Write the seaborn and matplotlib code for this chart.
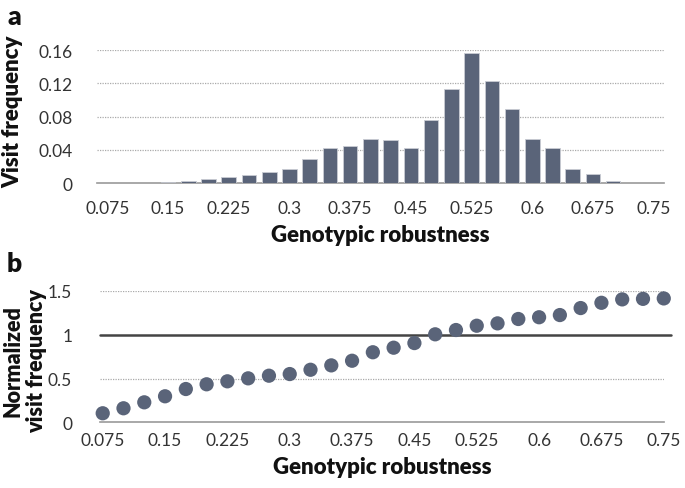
import numpy as np
import pandas as pd
import matplotlib
matplotlib.use("Agg")
import matplotlib.pyplot as plt
import seaborn as sns

# genotypic robustness bins (0.075 .. 0.75, step 0.025)
robustness = ["0.075", "0.1", "0.125", "0.15", "0.175", "0.2", "0.225", "0.25",
              "0.275", "0.3", "0.325", "0.35", "0.375", "0.4", "0.425", "0.45",
              "0.475", "0.5", "0.525", "0.55", "0.575", "0.6", "0.625", "0.65",
              "0.675", "0.7", "0.725", "0.75"]
visit_freq = [0.0, 0.0, 0.0, 0.0016, 0.003, 0.005, 0.007, 0.0096,
              0.013, 0.017, 0.0285, 0.042, 0.045, 0.053, 0.052, 0.042,
              0.076, 0.113, 0.156, 0.123, 0.089, 0.053, 0.042, 0.017,
              0.0105, 0.003, 0.0, 0.0]
norm_freq = [0.103, 0.16, 0.228, 0.297, 0.38, 0.434, 0.468, 0.502,
             0.532, 0.551, 0.60, 0.65, 0.703, 0.80, 0.852, 0.905,
             1.005, 1.054, 1.103, 1.13, 1.18, 1.20, 1.225, 1.305,
             1.365, 1.404, 1.41, 1.415]
tick_labels = ["0.075", "0.15", "0.225", "0.3", "0.375", "0.45", "0.525", "0.6", "0.675", "0.75"]

sns.set_theme(style="white")
plt.rcParams["font.family"] = ["Lato", "DejaVu Sans"]

BAR = "#5a6479"
TXT = "#333333"
LBL = "#111111"

df = pd.DataFrame({"robustness": robustness, "visit": visit_freq, "norm": norm_freq})
df["pos"] = np.arange(len(df))

fig = plt.figure(figsize=(6.85, 4.89), dpi=100)
ax1 = fig.add_axes([0.142, 0.6237, 0.827, 0.2720])
ax2 = fig.add_axes([0.146, 0.1344, 0.823, 0.2685])

# --- panel a: visit frequency histogram ---
sns.barplot(data=df, x="robustness", y="visit", color=BAR, width=0.72,
            edgecolor="#c9ccd3", linewidth=0.6, saturation=1, ax=ax1, zorder=3)
ax1.set_xlim(-0.5, len(df) - 0.5)
ax1.set_ylim(0, 0.16)
ax1.set_yticks([0, 0.04, 0.08, 0.12, 0.16])
ax1.set_yticklabels(["0", "0.04", "0.08", "0.12", "0.16"])
ax1.set_xticks(np.arange(0, len(df), 3))
ax1.set_xticklabels(tick_labels)
ax1.set_xlabel("Genotypic robustness", fontsize=16, fontweight="heavy", color=LBL, labelpad=6)
ax1.set_ylabel("")

# --- panel b: normalized visit frequency ---
sns.scatterplot(data=df, x="pos", y="norm", color=BAR, s=105, edgecolor="none",
                ax=ax2, zorder=4, clip_on=False)
ax2.axhline(1, xmin=0, xmax=1.0125, color="#444444", linewidth=1.8, zorder=3, clip_on=False)
ax2.set_xlim(-0.13, len(df) - 1)
ax2.set_ylim(0, 1.5)
ax2.set_yticks([0, 0.5, 1, 1.5])
ax2.set_yticklabels(["0", "0.5", "1", "1.5"])
ax2.set_xticks(np.arange(0, len(df), 3))
ax2.set_xticklabels(tick_labels)
ax2.set_xlabel("Genotypic robustness", fontsize=16, fontweight="heavy", color=LBL, labelpad=6)
ax2.set_ylabel("")

for ax, xpad, ypad in [(ax1, 12, 18), (ax2, 7, 20)]:
    sns.despine(ax=ax, left=True, top=True, right=True)
    ax.spines["bottom"].set_color("#999999")
    ax.spines["bottom"].set_linewidth(1.2)
    ax.spines["bottom"].set_zorder(2)
    ax.yaxis.grid(True, linestyle=(0, (1, 1)), color="#aaaaaa", linewidth=0.9, zorder=0)
    ax.xaxis.grid(False)
    ax.set_axisbelow(True)
    ax.tick_params(axis="x", length=0, pad=xpad, labelsize=12.5, labelcolor=TXT)
    ax.tick_params(axis="y", length=0, pad=ypad, labelsize=12.5, labelcolor=TXT)

# hide the grid line that coincides with the baseline
ax1.yaxis.get_gridlines()[0].set_visible(False)
ax2.yaxis.get_gridlines()[0].set_visible(False)
ax2.yaxis.get_gridlines()[2].set_visible(False)

fig.text(0.019, 0.771, "Visit frequency", rotation=90, ha="center", va="center",
         fontsize=16, fontweight="heavy", color=LBL)
fig.text(0.036, 0.262, "Normalized\nvisit frequency", rotation=90, ha="center", va="center",
         fontsize=15.5, fontweight="heavy", color=LBL, linespacing=1.15)
fig.text(0.021, 0.949, "a", ha="center", va="baseline", fontsize=19, fontweight="heavy", color=LBL)
fig.text(0.021, 0.444, "b", ha="center", va="baseline", fontsize=19, fontweight="heavy", color=LBL)

fig.savefig("out.png", dpi=100)
